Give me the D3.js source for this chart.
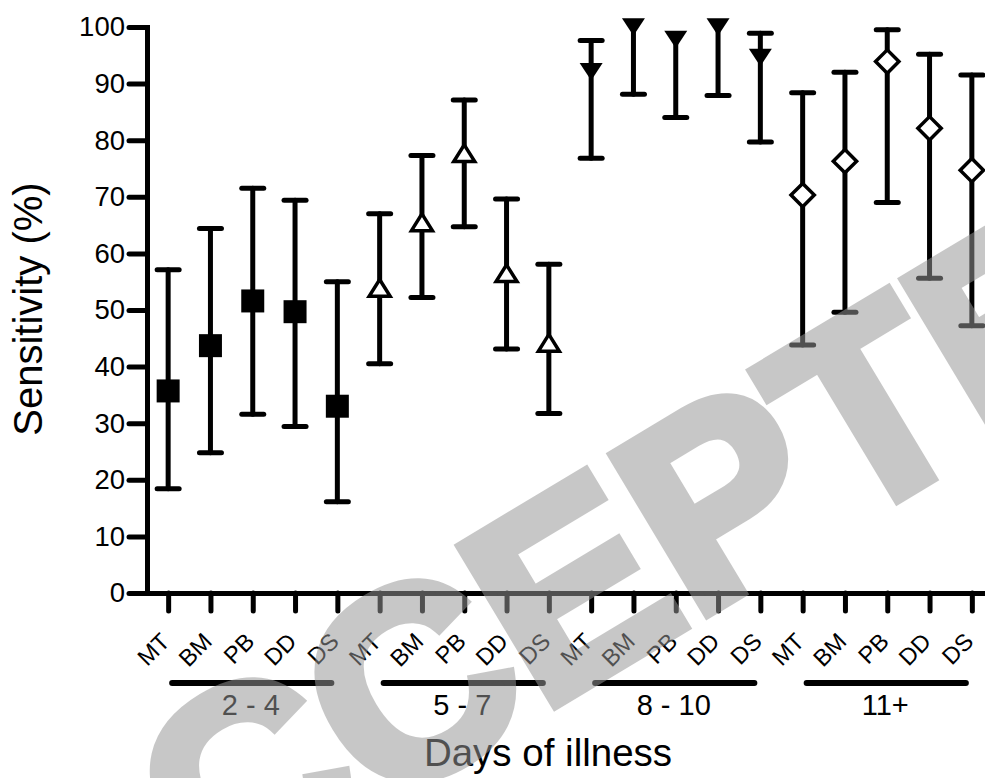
<!DOCTYPE html>
<html><head><meta charset="utf-8">
<script src="https://cdn.jsdelivr.net/npm/d3@7"></script>
<style>html,body{margin:0;padding:0;background:#fff;} svg{display:block;font-family:"Liberation Sans",Arial,sans-serif;}</style>
</head><body><svg id="c" width="985" height="778"></svg>
<script>
// ---- data ----
const groups = ["2 - 4", "5 - 7", "8 - 10", "11+"];
const methods = ["MT", "BM", "PB", "DD", "DS"];
const yTicks = [0, 10, 20, 30, 40, 50, 60, 70, 80, 90, 100];

const sens_2_4  = [35.7, 43.7, 51.6, 49.7, 33.0];
const lower_2_4 = [18.4, 24.8, 31.6, 29.4, 16.1];
const upper_2_4 = [57.1, 64.4, 71.5, 69.4, 55.0];

const sens_5_7  = [53.9, 65.5, 77.7, 56.5, 44.2];
const lower_5_7 = [40.5, 52.2, 64.7, 43.1, 31.7];
const upper_5_7 = [67.0, 77.3, 87.1, 69.6, 58.1];

const sens_8_10  = [92.1, 100, 97.8, 100, 94.6];
const lower_8_10 = [76.8, 88.1, 84.0, 87.9, 79.7];
const upper_8_10 = [97.6, 100, 97.8, 100, 98.9];

const sens_11  = [70.3, 76.3, 93.9, 82.1, 74.7];
const lower_11 = [43.8, 49.6, 69.0, 55.6, 47.2];
const upper_11 = [88.4, 92.0, 99.5, 95.2, 91.5];

const sensAll = [sens_2_4, sens_5_7, sens_8_10, sens_11];
const lowerAll = [lower_2_4, lower_5_7, lower_8_10, lower_11];
const upperAll = [upper_2_4, upper_5_7, upper_8_10, upper_11];

const yTitle = "Sensitivity (%)";
const xTitle = "Days of illness";
const watermark = "ACCEPTED MANUSCRIPT";

// ---- build rows ----
const rows = [];
groups.forEach((g, gi) => methods.forEach((m, mi) => {
  rows.push({group: gi, method: m, pos: gi * methods.length + mi + 1,
             v: sensAll[gi][mi], lo: lowerAll[gi][mi], hi: upperAll[gi][mi]});
}));

// ---- scales ----
const svg = d3.select("#c");
const x = d3.scaleLinear().domain([0.5, 20.5]).range([147, 993]);
const y = d3.scaleLinear().domain([0, 100]).range([593, 27]);

// ---- axes ----
const yAxis = svg.append("g").attr("transform", `translate(${x(0.5)},0)`)
  .call(d3.axisLeft(y).tickValues(yTicks).tickSize(18).tickSizeOuter(0).tickPadding(4));
const xAxis = svg.append("g").attr("transform", `translate(0,${y(0)})`)
  .call(d3.axisBottom(x).tickValues(d3.range(1, 21)).tickSize(18).tickSizeOuter(0).tickFormat(""));
[yAxis, xAxis].forEach(a => {
  a.select(".domain").attr("stroke", "#000").attr("stroke-width", 5).attr("stroke-linecap", "square");
  a.selectAll(".tick line").attr("stroke", "#000").attr("stroke-width", 5).attr("stroke-linecap", "round");
});
yAxis.selectAll(".tick text").attr("font-size", 27.5).attr("fill", "#000")
  .attr("font-family", "'Liberation Sans', Arial, sans-serif");

// x tick labels (rotated)
svg.append("g").selectAll("text").data(rows).join("text")
  .attr("transform", d => `translate(${x(d.pos) + 3},643) rotate(-45)`)
  .attr("text-anchor", "end").attr("font-size", 23.5).attr("fill", "#000")
  .text(d => d.method);

// group bars and labels
const gInfo = groups.map((g, gi) => ({name: g, a: gi * 5 + 1, b: gi * 5 + 5}));
svg.append("g").selectAll("line").data(gInfo).join("line")
  .attr("x1", d => x(d.a) + 4).attr("x2", d => x(d.b) - 6)
  .attr("y1", 683).attr("y2", 683)
  .attr("stroke", "#000").attr("stroke-width", 6).attr("stroke-linecap", "round");
svg.append("g").selectAll("text").data(gInfo).join("text")
  .attr("x", d => (x(d.a) + x(d.b)) / 2 - 2).attr("y", 715)
  .attr("text-anchor", "middle").attr("font-size", 29).attr("fill", "#000")
  .text(d => d.name);

// titles
svg.append("text").attr("x", 548).attr("y", 766)
  .attr("text-anchor", "middle").attr("font-size", 38.5).attr("fill", "#000").text(xTitle);
svg.append("text").attr("transform", `translate(42,309) rotate(-90)`)
  .attr("text-anchor", "middle").attr("font-size", 40).attr("fill", "#000").text(yTitle);

// ---- error bars ----
const eb = svg.append("g").attr("stroke", "#000").attr("stroke-width", 5).attr("stroke-linecap", "round");
rows.forEach(d => {
  const cx = x(d.pos);
  eb.append("line").attr("x1", cx).attr("x2", cx).attr("y1", y(d.lo)).attr("y2", y(d.hi));
  eb.append("line").attr("x1", cx - 11).attr("x2", cx + 11).attr("y1", y(d.lo)).attr("y2", y(d.lo));
  if (d.hi > d.v) eb.append("line").attr("x1", cx - 11).attr("x2", cx + 11).attr("y1", y(d.hi)).attr("y2", y(d.hi));
});

// ---- markers ----
const triUp = {draw(ctx, size) { const w = Math.sqrt(size), h = w * 0.8;
  ctx.moveTo(0, -h / 2); ctx.lineTo(w / 2, h / 2); ctx.lineTo(-w / 2, h / 2); ctx.closePath(); }};
const triDown = {draw(ctx, size) { const w = Math.sqrt(size), h = w * 0.76;
  ctx.moveTo(0, h / 2); ctx.lineTo(w / 2, -h / 2); ctx.lineTo(-w / 2, -h / 2); ctx.closePath(); }};
const styles = [
  {type: d3.symbolSquare, size: 23 * 23, fill: "#000", sw: 0, rot: 0},
  {type: triUp, size: 21 * 21, fill: "#fff", sw: 3.5, rot: 0},
  {type: triDown, size: 23 * 23, fill: "#000", sw: 0, rot: 0},
  {type: d3.symbolSquare, size: 16.5 * 16.5, fill: "#fff", sw: 3.5, rot: 45}
];
svg.append("g").selectAll("path").data(rows).join("path")
  .attr("transform", d => `translate(${x(d.pos)},${y(d.v)}) rotate(${styles[d.group].rot})`)
  .attr("d", d => d3.symbol().type(styles[d.group].type).size(styles[d.group].size)())
  .attr("fill", d => styles[d.group].fill)
  .attr("stroke", "#000").attr("stroke-width", d => styles[d.group].sw)
  .attr("stroke-linejoin", "miter");

// ---- watermark ----
const wmSize = 266;
const wm = svg.append("g").attr("opacity", 0.53)
  .attr("transform", "translate(845,530) rotate(-31)");
const probe = wm.append("text").attr("font-size", wmSize).attr("font-weight", "bold").text(watermark.slice(0, 5));
const preW = probe.node().getComputedTextLength();
probe.remove();
wm.append("text").attr("x", -preW).attr("y", 0)
  .attr("font-size", wmSize).attr("font-weight", "bold")
  .attr("fill", "#979797").attr("stroke", "#979797").attr("stroke-width", 12)
  .attr("stroke-linejoin", "miter")
  .text(watermark);
</script></body></html>
